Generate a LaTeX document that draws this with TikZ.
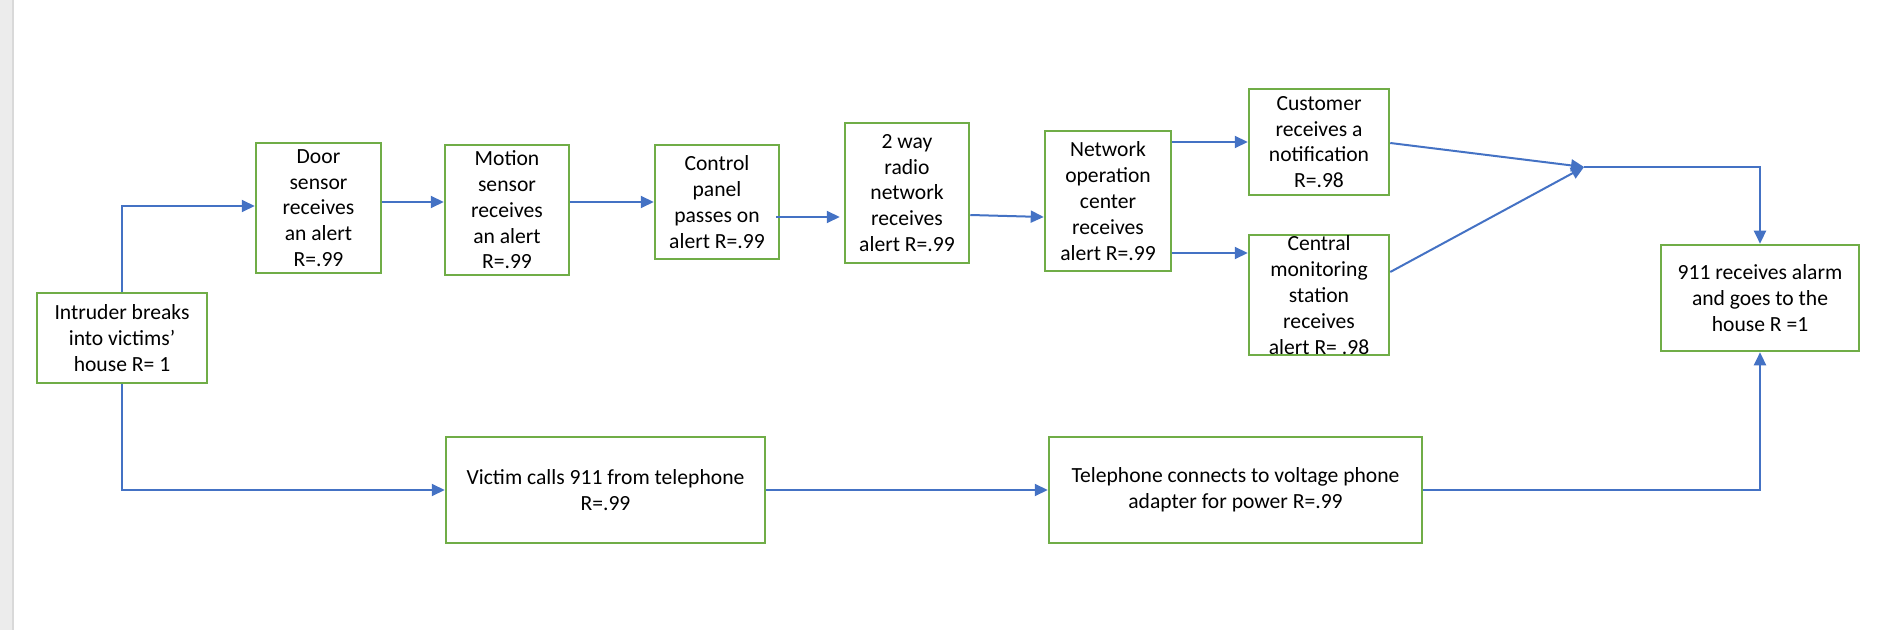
\documentclass[tikz,border=0pt]{standalone}
\usepackage{fontspec}
\setmainfont{Carlito}
\usepackage{tikz}
\usetikzlibrary{arrows.meta}
\definecolor{boxgreen}{HTML}{70AD47}
\definecolor{flowblue}{HTML}{4472C4}

\begin{document}
\begin{tikzpicture}[x=0.5pt, y=-0.5pt,
    font=\fontsize{10.8}{12.9}\selectfont,
    box/.style={draw=boxgreen, line width=1.25pt, align=center, inner xsep=2pt, inner ysep=0pt},
    flow/.style={draw=flowblue, line width=1pt, -{Triangle[length=6.5pt,width=6pt]}}]
    \useasboundingbox (0,0) rectangle (1882,630);
    \fill[gray!15] (0,0) rectangle (12,630);
    \draw[gray!30, line width=1pt] (12.5,0) -- (12.5,630);

    \node[box, minimum width=85pt, minimum height=45pt] (intr) at (122,338) {Intruder breaks\\into victims’\\house R= 1};
    \node[box, minimum width=62.5pt, minimum height=65pt] (door) at (318.5,208) {Door\\sensor\\receives\\an alert\\R=.99};
    \node[box, minimum width=62pt, minimum height=65pt] (mot) at (507,210) {Motion\\sensor\\receives\\an alert\\R=.99};
    \node[box, minimum width=62pt, minimum height=57pt] (ctrl) at (717,202) {Control\\panel\\passes on\\alert R=.99};
    \node[box, minimum width=62pt, minimum height=70pt] (radio) at (907,193) {2 way\\radio\\network\\receives\\alert R=.99};
    \node[box, minimum width=63pt, minimum height=70pt] (noc) at (1108,201) {Network\\operation\\center\\receives\\alert R=.99};
    \node[box, minimum width=70pt, minimum height=53pt] (cust) at (1319,142) {Customer\\receives a\\notification\\R=.98};
    \node[box, minimum width=70pt, minimum height=60pt] (cms) at (1319,295) {Central\\monitoring\\station\\receives\\alert R= .98};
    \node[box, minimum width=99pt, minimum height=53pt] (nine) at (1760,298) {911 receives alarm\\and goes to the\\house R =1};
    \node[box, minimum width=159.5pt, minimum height=53pt] (vic) at (605.5,490) {Victim calls 911 from telephone\\R=.99};
    \node[box, minimum width=186.5pt, minimum height=53pt] (tel) at (1235.5,490) {Telephone connects to voltage phone\\adapter for power R=.99};
    \coordinate (join) at (1584,167);

    \draw[flow] (intr.north) |- ([yshift=1pt]door.west);
    \draw[flow] (intr.south) |- (vic.west);
    \draw[flow] ([yshift=3pt]door.east) -- ([yshift=3pt]door.east -| mot.west);
    \draw[flow] (mot.east |- ctrl.west) -- (ctrl.west);
    \draw[flow] ([xshift=-2pt,yshift=-7.5pt]ctrl.east) -- ([xshift=-2pt,yshift=-7.5pt]ctrl.east -| radio.west);
    \draw[flow] ([yshift=-11pt]radio.east) -- ([yshift=-8pt]noc.west);
    \draw[flow] (noc.east |- cust.west) -- (cust.west);
    \draw[flow] ([yshift=21pt]cms.west -| noc.east) -- ([yshift=21pt]cms.west);
    \draw[flow] ([yshift=-0.5pt]cust.east) -- (join);
    \draw[flow] ([yshift=11.5pt]cms.east) -- (join);
    \draw[flow] (join) -| (nine.north);
    \draw[flow] (vic.east) -- (tel.west);
    \draw[flow] (tel.east) -| (nine.south);
  \end{tikzpicture}
\end{document}
